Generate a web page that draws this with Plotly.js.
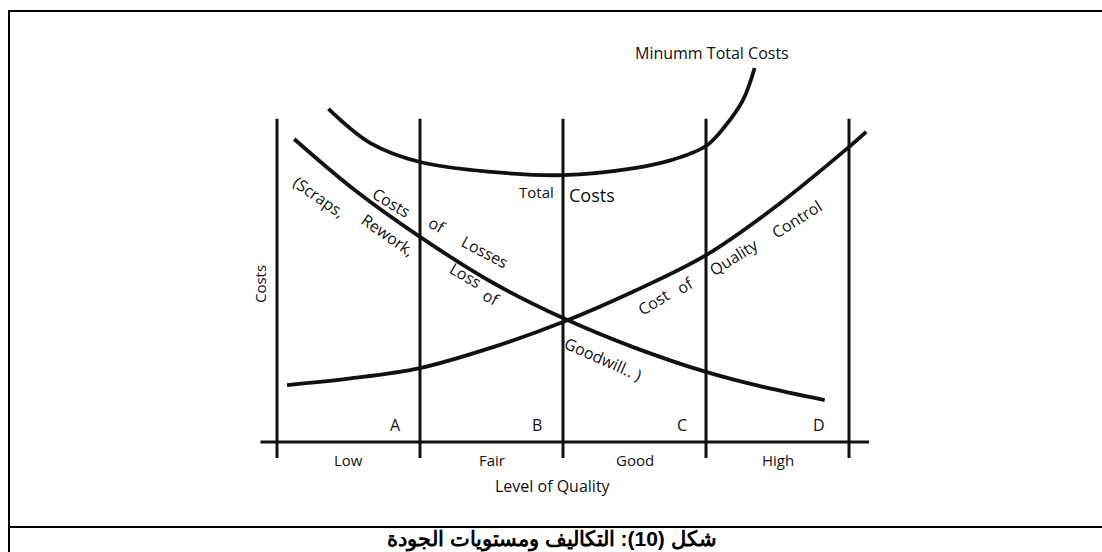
<!DOCTYPE html>
<html>
<head>
<meta charset="utf-8">
<script src="https://cdn.plot.ly/plotly-3.0.1.min.js"></script>
<style>html,body{margin:0;padding:0;background:#fff;}#chart{width:1102px;height:552px;}</style>
</head>
<body>
<div id="chart"></div>
<script>
// ---- data (quality level on x: boundaries 0..4, costs on y: baseline 0) ----
const qualityLevels = ['Low', 'Fair', 'Good', 'High'];
const levelPositions = [0.5, 1.5, 2.5, 3.5];
const boundaries = [0, 1, 2, 3, 4];
const pointLabels = ['A', 'B', 'C', 'D'];
const pointLabelX = [0.83, 1.82, 2.83, 3.79];

const lossX = [0.12, 0.55, 1.0, 1.5, 2.0, 2.5, 3.0, 3.4, 3.83];
const lossY = [9.47, 7.85, 6.41, 5.0, 3.875, 2.95, 2.19, 1.72, 1.31];

const qcX = [0.07, 0.5, 1.0, 1.5, 2.0, 2.5, 3.0, 3.5, 4.0, 4.12];
const qcY = [1.78, 1.98, 2.31, 2.95, 3.75, 4.72, 5.84, 7.4, 9.22, 9.69];

const totalX = [0.36, 0.65, 1.0, 1.5, 2.0, 2.5, 2.75, 3.0, 3.13, 3.26, 3.34];
const totalY = [10.41, 9.35, 8.75, 8.44, 8.34, 8.56, 8.8, 9.25, 9.85, 10.7, 11.69];

const lossLabels = ['(Scraps,', 'Costs', 'Rework,', 'of', 'Losses', 'Loss', 'of', 'Goodwill.. )'];
const lossLabelX = [0.294, 0.804, 0.776, 1.119, 1.455, 1.315, 1.503, 2.28];
const lossLabelY = [7.66, 7.47, 6.47, 6.78, 5.94, 5.22, 4.5, 2.6];
const lossLabelAngle = [35, 31, 35, 30, 28, 30, 28, 24];

const qcLabels = ['Cost', 'of', 'Quality', 'Control'];
const qcLabelX = [2.636, 2.86, 3.196, 3.636];
const qcLabelY = [4.375, 4.91, 5.78, 6.97];

const totalLabels = ['Total', 'Costs'];
const totalLabelX = [1.818, 2.203];
const totalLabelY = [7.81, 7.72];

const minLabel = 'Minumm Total Costs';
const xTitle = 'Level of Quality';
const yTitle = 'Costs';
const caption = 'شكل (10): التكاليف ومستويات الجودة';

// ---- layout geometry (pixels) ----
const W = 1102, H = 552;
const L = 260, R = 870, T = 10, B = 522;
const X0 = 277, XU = 143, Y0 = 442, YU = 32;
const xr = [(L - X0) / XU, (R - X0) / XU];
const yr = [(Y0 - B) / YU, (Y0 - T) / YU];
const px2paperX = p => (p - L) / (R - L);
const px2paperY = p => (B - p) / (B - T);

const font = 'Open Sans, Noto Sans, sans-serif';
const ink = '#111';

const curve = (x, y) => ({
  x: x, y: y, type: 'scatter', mode: 'lines',
  line: {color: ink, width: 3.8, shape: 'spline', smoothing: 1},
  hoverinfo: 'skip'
});
const traces = [curve(lossX, lossY), curve(qcX, qcY), curve(totalX, totalY)];

const shapes = [];
boundaries.forEach(b => shapes.push({type: 'line', xref: 'x', yref: 'y', x0: b, x1: b, y0: -0.5, y1: 10.1, line: {color: ink, width: 3}}));
shapes.push({type: 'line', xref: 'x', yref: 'y', x0: -0.115, x1: 4.14, y0: 0, y1: 0, line: {color: ink, width: 3}});
// frame
shapes.push({type: 'line', xref: 'paper', yref: 'paper', x0: px2paperX(9), x1: px2paperX(9), y0: px2paperY(11), y1: px2paperY(560), line: {color: '#000', width: 2}});
shapes.push({type: 'line', xref: 'paper', yref: 'paper', x0: px2paperX(8), x1: px2paperX(1110), y0: px2paperY(11), y1: px2paperY(11), line: {color: '#000', width: 2}});
shapes.push({type: 'line', xref: 'paper', yref: 'paper', x0: px2paperX(8), x1: px2paperX(1110), y0: px2paperY(527), y1: px2paperY(527), line: {color: '#000', width: 2}});

const ann = [];
const txt = (text, x, y, size, angle, extra) => Object.assign({
  text: text, x: x, y: y, xref: 'x', yref: 'y', showarrow: false,
  xanchor: 'center', yanchor: 'middle', textangle: angle || 0,
  font: {family: font, size: size, color: ink}
}, extra || {});

lossLabels.forEach((t, i) => ann.push(txt(t, lossLabelX[i], lossLabelY[i], 16, lossLabelAngle[i])));
qcLabels.forEach((t, i) => ann.push(txt(t, qcLabelX[i], qcLabelY[i], 16, -32)));
totalLabels.forEach((t, i) => ann.push(txt(t, totalLabelX[i], totalLabelY[i], i === 0 ? 15 : 18, 0)));
pointLabels.forEach((t, i) => ann.push(txt(t, pointLabelX[i], 0.53, 16, 0)));
qualityLevels.forEach((t, i) => ann.push(txt(t, levelPositions[i], -0.56, 15, 0)));
ann.push(txt(xTitle, 1.93, -1.375, 16, 0));
ann.push(txt(yTitle, (260 - X0) / XU, (Y0 - 284) / YU, 15, -90));
ann.push(txt(minLabel, 3.042, 12.16, 16, 0));
ann.push({
  text: '<b>' + caption + '</b>', xref: 'paper', yref: 'paper',
  x: px2paperX(552), y: px2paperY(539), showarrow: false,
  xanchor: 'center', yanchor: 'middle',
  font: {family: 'Liberation Sans, Arial, sans-serif', size: 21, color: '#000'}
});

const layout = {
  width: W, height: H,
  margin: {l: L, r: W - R, t: T, b: H - B, pad: 0},
  paper_bgcolor: '#fff', plot_bgcolor: '#fff',
  showlegend: false, hovermode: false,
  xaxis: {range: xr, visible: false, fixedrange: true},
  yaxis: {range: yr, visible: false, fixedrange: true},
  shapes: shapes, annotations: ann
};

Plotly.newPlot('chart', traces, layout, {staticPlot: true, displayModeBar: false});
</script>
</body>
</html>
